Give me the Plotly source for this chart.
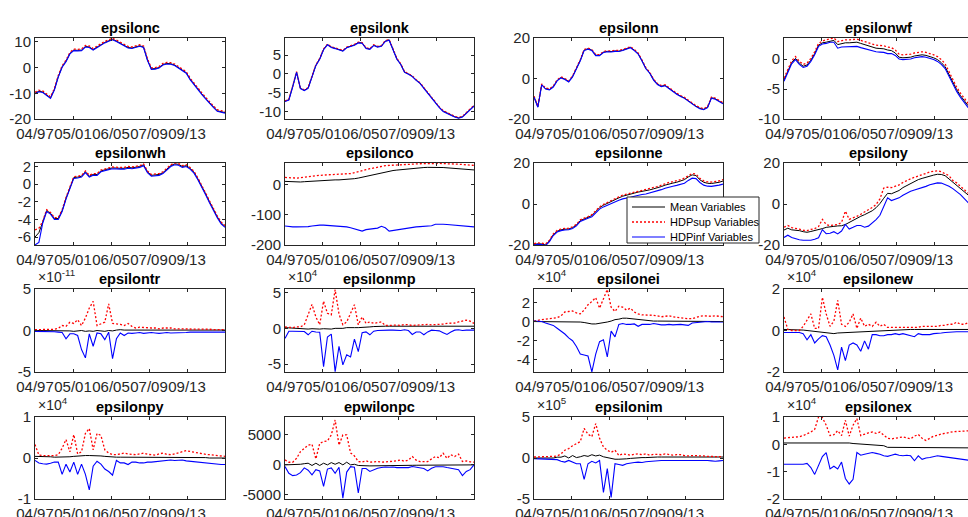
import plotly.graph_objects as go

W, H = 968, 517

# time index in months since 04/97, sampled every 5 months
T = list(range(0, 246, 5))
XTICK_VALS = [0, 49, 98, 147, 196]
XTICK_TEXT = ["04/97", "05/01", "06/05", "07/09", "09/13"]

SERIES_NAMES = ["Mean Variables", "HDPsup Variables", "HDPinf Variables"]

# ---------------- epsilonc ----------------
c_mean = [-10, -9.2, -9.5, -10.5, -11.8, -8.5, -3.5, 0.3, 2.5, 5.5,
          6.8, 6.7, 6.8, 8.2, 8.0, 7.0, 8.0, 9.0, 9.8, 10.4,
          11.0, 10.3, 9.5, 8.8, 7.8, 7.6, 8.0, 8.5, 8.0, 3.0,
          -0.5, -0.4, 0.0, 1.2, 1.6, 1.5, 1.0, 0.0, -1.0, -2.0,
          -4.5, -6.5, -8.5, -10.2, -12.0, -13.8, -15.3, -16.8, -17.3, -17.5]
c_sup = [-9.6, -8.8, -9.1, -10.1, -11.4, -8.1, -3.1, 0.7, 2.9, 5.9,
         7.2, 7.1, 7.2, 8.6, 8.4, 7.4, 8.4, 9.4, 10.2, 10.8,
         11.4, 10.7, 9.9, 9.2, 8.2, 8.0, 8.4, 8.9, 8.4, 3.4,
         -0.1, 0.0, 0.4, 1.6, 2.0, 1.9, 1.4, 0.4, -0.6, -1.6,
         -4.1, -6.1, -8.1, -9.8, -11.6, -13.4, -14.9, -16.4, -16.9, -17.1]
c_inf = [-10.2, -9.4, -9.7, -10.7, -12.0, -8.7, -3.7, 0.1, 2.3, 5.3,
         6.6, 6.5, 6.6, 8.0, 7.8, 6.8, 7.8, 8.8, 9.6, 10.2,
         10.8, 10.1, 9.3, 8.6, 7.6, 7.4, 7.8, 8.3, 7.8, 2.8,
         -0.7, -0.6, -0.2, 1.0, 1.4, 1.3, 0.8, -0.2, -1.2, -2.2,
         -4.7, -6.7, -8.7, -10.4, -12.2, -14.0, -15.5, -17.0, -17.5, -17.7]

# ---------------- epsilonk ----------------
k_mean = [-7.2, -6.8, -3.3, 0.5, -3.8, -4.3, -3.7, -0.8, 2.3, 4.0,
          6.5, 7.8, 7.1, 6.8, 6.5, 6.1, 7.0, 7.3, 7.7, 8.3,
          8.2, 6.8, 6.6, 7.6, 7.2, 7.4, 8.7, 9.0, 6.5, 4.0,
          2.6, 0.5, 0.0, -0.6, -1.6, -2.4, -3.7, -5.0, -6.3, -7.8,
          -8.8, -9.8, -10.4, -10.8, -11.3, -11.6, -11.3, -10.3, -9.3, -8.4]
k_sup = [-7.1, -6.7, -3.2, 0.6, -3.7, -4.2, -3.6, -0.7, 2.4, 4.1,
         6.6, 7.9, 7.2, 6.9, 6.6, 6.2, 7.1, 7.4, 7.8, 8.4,
         8.3, 6.9, 6.7, 7.7, 7.3, 7.5, 8.8, 9.1, 6.6, 4.1,
         2.7, 0.6, 0.1, -0.5, -1.5, -2.3, -3.6, -4.9, -6.2, -7.7,
         -8.7, -9.7, -10.3, -10.7, -11.2, -11.5, -11.2, -10.2, -9.2, -8.3]
k_inf = [-7.3, -6.9, -3.4, 0.4, -3.9, -4.4, -3.8, -0.9, 2.2, 3.9,
         6.4, 7.7, 7.0, 6.7, 6.4, 6.0, 6.9, 7.2, 7.6, 8.2,
         8.1, 6.7, 6.5, 7.5, 7.1, 7.3, 8.6, 8.9, 6.4, 3.9,
         2.5, 0.4, -0.1, -0.7, -1.7, -2.5, -3.8, -5.1, -6.4, -7.9,
         -8.9, -9.9, -10.5, -10.9, -11.4, -11.7, -11.4, -10.4, -9.4, -8.5]

# ---------------- epsilonn ----------------
n_mean = [-9, -14, -3, -5, -5.4, -4, -1, 0.5, -0.3, -1.5,
          1.0, 5.0, 9.0, 14.0, 14.7, 14.0, 11.5, 11.5, 13.0, 13.4,
          13.3, 13.6, 13.5, 14.0, 14.6, 15.4, 14.0, 12.3, 8.8, 5.0,
          2.8, -0.6, -2.8, -3.8, -3.4, -4.8, -6.5, -7.6, -8.7, -9.6,
          -11.0, -12.5, -13.7, -14.7, -15.2, -14.2, -9.5, -10.0, -11.0, -12.3]
n_sup = [-8.7, -13.7, -2.7, -4.7, -5.1, -3.7, -0.7, 0.8, 0.0, -1.2,
         1.3, 5.3, 9.3, 14.3, 15.0, 14.3, 11.8, 11.8, 13.3, 13.7,
         13.6, 13.9, 13.8, 14.3, 14.9, 15.7, 14.3, 12.6, 9.1, 5.3,
         3.1, -0.3, -2.5, -3.5, -3.1, -4.5, -6.2, -7.3, -8.4, -9.3,
         -10.7, -12.2, -13.4, -14.4, -14.9, -13.9, -9.2, -9.7, -10.7, -12.0]
n_inf = [-9.2, -14.2, -3.2, -5.2, -5.6, -4.2, -1.2, 0.3, -0.5, -1.7,
         0.8, 4.8, 8.8, 13.8, 14.5, 13.8, 11.3, 11.3, 12.8, 13.2,
         13.1, 13.4, 13.3, 13.8, 14.4, 15.2, 13.8, 12.1, 8.6, 4.8,
         2.6, -0.8, -3.0, -4.0, -3.6, -5.0, -6.7, -7.8, -8.9, -9.8,
         -11.2, -12.7, -13.9, -14.9, -15.4, -14.4, -9.7, -10.2, -11.2, -12.5]

# ---------------- epsilonwf ----------------
wf_mean = [-3.5, -2.0, -0.6, 0.1, -0.7, -1.2, -1.0, -0.2, 0.9, 2.3,
           2.7, 2.8, 3.0, 3.1, 2.4, 2.6, 2.7, 2.7, 2.7, 2.8,
           2.6, 2.4, 2.2, 2.0, 1.8, 1.75, 1.7, 1.5, 1.4, 1.0,
           0.3, 0.2, 0.25, 0.3, 0.5, 0.6, 0.7, 0.6, 0.45, 0.2,
           -0.1, -0.6, -1.3, -2.6, -4.0, -5.1, -6.1, -6.9, -7.8, -8.3]
wf_sup = [-3.2, -1.7, -0.3, 0.4, -0.4, -0.9, -0.7, 0.1, 1.2, 2.6,
          3.0, 3.2, 3.4, 3.5, 2.9, 3.1, 3.2, 3.2, 3.2, 3.3,
          3.1, 2.9, 2.7, 2.5, 2.3, 2.25, 2.2, 2.0, 1.9, 1.5,
          0.8, 0.7, 0.75, 0.8, 1.0, 1.1, 1.2, 1.1, 0.95, 0.7,
          0.4, -0.1, -0.8, -2.1, -3.6, -4.7, -5.7, -6.5, -7.4, -7.9]
wf_inf = [-3.7, -2.2, -0.8, -0.1, -0.9, -1.4, -1.2, -0.4, 0.7, 2.1,
          2.5, 2.6, 2.8, 2.8, 1.8, 2.0, 2.0, 2.0, 2.0, 2.1,
          1.9, 1.7, 1.5, 1.3, 1.2, 1.15, 1.1, 0.9, 0.9, 0.6,
          0.0, -0.1, -0.05, 0.0, 0.2, 0.3, 0.4, 0.3, 0.15, -0.1,
          -0.4, -0.9, -1.6, -2.9, -4.3, -5.4, -6.4, -7.2, -8.1, -8.6]

# ---------------- epsilonwh ----------------
wh_mean = [-6.0, -5.5, -4.3, -3.0, -3.3, -3.9, -3.9, -3.0, -1.6, -0.5,
           0.75, 0.8, 0.9, 1.4, 0.9, 1.1, 1.1, 1.5, 1.65, 1.75,
           1.85, 1.8, 1.8, 1.8, 1.9, 1.85, 1.9, 2.0, 2.2, 1.4,
           1.0, 1.05, 1.1, 1.3, 1.7, 2.1, 2.3, 2.25, 2.0, 2.1,
           1.8, 1.35, 0.6, -0.2, -1.1, -2.0, -2.9, -3.7, -4.4, -4.8]
wh_sup = [-5.2, -5.0, -4.2, -2.9, -3.2, -3.8, -3.8, -2.9, -1.5, -0.4,
          0.85, 0.9, 1.0, 1.5, 1.0, 1.2, 1.2, 1.6, 1.75, 1.85,
          1.95, 1.9, 1.9, 1.9, 2.0, 1.95, 2.0, 2.1, 2.3, 1.5,
          1.1, 1.15, 1.2, 1.4, 1.8, 2.2, 2.4, 2.35, 2.1, 2.2,
          1.9, 1.45, 0.7, -0.1, -1.0, -1.9, -2.8, -3.6, -4.3, -4.7]
wh_inf = [-6.9, -6.6, -4.4, -3.1, -3.4, -4.0, -4.0, -3.1, -1.7, -0.6,
          0.65, 0.7, 0.8, 1.3, 0.8, 1.0, 1.0, 1.4, 1.55, 1.65,
          1.75, 1.7, 1.7, 1.7, 1.8, 1.75, 1.8, 1.9, 2.1, 1.3,
          0.9, 0.95, 1.0, 1.2, 1.6, 2.0, 2.2, 2.15, 1.9, 2.0,
          1.7, 1.25, 0.5, -0.3, -1.2, -2.1, -3.0, -3.8, -4.5, -4.9]

# ---------------- epsilonco ----------------
co_mean = [11, 10, 9.5, 9, 9, 10, 11, 12, 13, 14,
           14.5, 15, 15.5, 16, 16, 16.5, 17, 18, 20, 22,
           25, 28, 31, 34, 37, 40, 43, 45, 47, 48.5,
           50, 51.5, 53, 54, 55, 56, 57, 57.5, 58, 58,
           57.5, 57, 56, 55, 54, 53, 52, 51, 50, 49]
co_sup = [24, 23, 22, 22, 23, 25, 27, 28.5, 30, 31,
          32, 32.5, 33, 33.5, 34, 34.5, 35, 37, 40, 44,
          47, 50, 53, 56, 58, 61, 63, 64, 65, 65.5,
          66, 67, 68, 68.5, 69, 69.5, 70, 70.5, 71, 71,
          70.5, 70, 70, 69, 68.5, 68, 67, 66, 65, 64]
co_inf = [-137, -139, -140, -140, -140, -140, -139, -137, -135, -134,
          -134, -135, -135, -135, -136, -138, -140, -143, -146, -150,
          -154, -149, -147, -146, -144, -138, -143, -154, -152, -149,
          -146, -144, -142, -141, -140, -139, -138, -137, -136, -131,
          -130, -131, -132, -133, -134, -135, -137, -138, -139, -140]

# ---------------- epsilonne ----------------
ne_mean = [-19.7, -19.4, -19.5, -20.0, -18.0, -15.0, -13.3, -12.6, -12.3, -12.2,
           -11.5, -10.3, -8.1, -7.4, -6.5, -5.6, -3.5, -1.8, -0.6, 0.4,
           1.3, 2.3, 3.0, 3.8, 4.2, 4.8, 5.3, 5.8, 6.1, 6.4,
           6.9, 7.4, 7.8, 8.5, 9.2, 9.8, 10.2, 10.6, 11.2, 11.9,
           13.2, 14.2, 13.9, 11.8, 10.6, 10.1, 10.0, 10.2, 10.6, 11.2]
ne_sup = [-19.3, -19.0, -19.1, -19.6, -17.6, -14.6, -12.9, -12.2, -11.9, -11.8,
          -11.1, -9.9, -7.7, -7.0, -6.1, -5.2, -3.1, -1.4, -0.2, 0.8,
          1.7, 2.7, 3.5, 4.3, 4.8, 5.4, 5.9, 6.4, 6.8, 7.1,
          7.6, 8.1, 8.5, 9.2, 9.9, 10.5, 10.9, 11.3, 11.9, 12.6,
          13.9, 14.9, 14.6, 12.5, 11.3, 10.8, 10.7, 10.9, 11.3, 11.9]
ne_inf = [-20.0, -19.7, -19.8, -20.3, -18.4, -15.4, -13.7, -13.0, -12.7, -12.6,
          -11.9, -10.7, -8.5, -7.9, -7.0, -6.2, -4.1, -2.5, -1.4, -0.5,
          0.3, 1.2, 1.8, 2.5, 2.8, 3.3, 3.8, 4.3, 4.6, 4.9,
          5.4, 5.9, 6.3, 7.0, 7.7, 8.3, 8.7, 9.1, 9.6, 10.1,
          11.5, 12.6, 12.4, 10.5, 9.2, 8.7, 8.6, 8.8, 9.2, 9.7]

# ---------------- epsilony ----------------
y_mean = [-12.7, -11.8, -12.6, -12.7, -13.0, -13.5, -13.8, -13.4, -13.0, -12.5,
          -12.0, -11.4, -11.0, -10.9, -10.7, -10.6, -10.0, -8.9, -8.0, -6.9,
          -6.0, -5.2, -4.2, -3.3, -1.8, 0.2, 2.8, 5.2, 5.0, 5.8,
          6.6, 8.0, 9.0, 10.3, 11.3, 11.9, 12.5, 13.1, 13.6, 14.1,
          14.5, 14.4, 13.8, 12.2, 10.8, 9.0, 7.4, 6.0, 4.5, 2.8]
y_sup = [-11.3, -10.5, -11.5, -11.8, -12.3, -12.8, -13.0, -12.4, -12.0, -11.0,
         -7.5, -10.0, -10.5, -10.2, -10.0, -9.0, -3.5, -7.5, -6.8, -6.0,
         -5.0, -4.0, -3.0, -1.7, -0.3, 2.5, 7.8, 8.2, 8.0, 8.5,
         9.3, 10.5, 11.5, 12.3, 13.0, 13.7, 14.4, 15.0, 15.6, 16.0,
         16.2, 15.7, 14.8, 13.8, 11.5, 10.3, 8.6, 7.0, 5.3, 3.7]
y_inf = [-16.3, -15.2, -16.3, -17.0, -17.4, -17.7, -17.7, -17.7, -17.2, -16.5,
         -12.5, -14.5, -14.3, -13.5, -14.6, -13.2, -10.0, -12.2, -11.4, -10.5,
         -10.5, -11.3, -10.8, -9.2, -7.6, -5.5, -1.0, 3.0, 1.7, 2.5,
         3.0, 4.3, 5.4, 6.2, 6.8, 7.3, 7.9, 8.6, 9.4, 10.0,
         10.3, 10.2, 9.6, 8.7, 7.5, 6.2, 4.6, 2.6, 0.7, -1.3]

# ---------------- epsilontr (x 1e-11) ----------------
tr_mean = [0, 0, 0, 0, 0, 0, 0, 0, 0, -0.05,
           -0.1, -0.05, 0, -0.1, -0.05, -0.1, 0, -0.05, -0.1, 0,
           -0.05, 0.05, 0.1, 0.05, 0.05, 0.05, 0.05, 0.05, 0.05, 0.05,
           0.05, 0.05, 0.05, 0.05, 0.05, 0.05, 0.05, 0.05, 0.05, 0.05,
           0.05, 0.05, 0.05, 0.05, 0.05, 0.05, 0.05, 0.05, 0.05, 0.05]
tr_sup = [0.1, 0.1, 0.1, 0.1, 0.1, 0.15, 0.25, 0.6, 0.5, 1.0,
          0.85, 1.3, 0.6, 1.5, 2.7, 3.5, 0.6, 0.8, 1.0, 3.2,
          0.85, 0.8, 0.75, 0.6, 0.85, 0.5, 0.3, 0.4, 0.35, 0.3,
          0.3, 0.3, 0.2, 0.3, 0.3, 0.3, 0.2, 0.2, 0.2, 0.2,
          0.2, 0.2, 0.2, 0.2, 0.2, 0.15, 0.1, 0.1, 0.1, 0.1]
tr_inf = [-0.1, -0.1, -0.1, -0.1, -0.1, -0.15, -0.2, -0.25, -1.0, -0.4,
          -0.4, -0.6, -2.3, -3.3, -0.4, -1.9, -0.3, -0.4, -1.1, -0.2,
          -3.4, -1.0, -0.3, -0.6, -0.3, -0.35, -0.3, -0.25, -0.35, -0.3,
          -0.25, -0.3, -0.35, -0.3, -0.25, -0.3, -0.3, -0.25, -0.3, -0.25,
          -0.2, -0.2, -0.25, -0.2, -0.2, -0.2, -0.2, -0.2, -0.2, -0.2]

# ---------------- epsilonmp (x 1e4) ----------------
mp_mean = [0.1, 0.05, 0.0, 0.0, -0.05, -0.1, -0.1, -0.05, -0.1, -0.1,
           -0.05, -0.1, -0.1, 0.0, -0.05, 0.0, 0.1, 0.05, 0.1, 0.1,
           0.1, 0.2, 0.2, 0.25, 0.3, 0.3, 0.3, 0.3, 0.3, 0.3,
           0.3, 0.3, 0.3, 0.3, 0.3, 0.3, 0.3, 0.3, 0.3, 0.3,
           0.3, 0.3, 0.3, 0.3, 0.3, 0.3, 0.3, 0.3, 0.3, 0.3]
mp_sup = [0.2, 0.15, 0.1, 0.2, 0.2, 0.5, 1.9, 3.35, 1.6, 0.5,
          3.8, 2.1, 1.9, 5.4, 2.0, 0.5, 0.9, 2.1, 3.3, 0.5,
          1.6, 0.7, 0.9, 0.7, 0.8, 0.9, 0.4, 0.45, 0.5, 0.45,
          0.4, 0.55, 0.5, 0.4, 0.45, 0.5, 0.55, 0.55, 0.5, 0.5,
          0.5, 0.6, 0.7, 0.7, 0.75, 0.9, 1.0, 1.15, 1.0, 0.7]
mp_inf = [-1.4, -0.4, -0.4, -0.4, -0.4, -0.45, -0.9, -0.4, -0.5, -0.55,
          -5.35, -1.2, -0.8, -6.05, -2.5, -5.1, -3.7, -4.0, -1.5, -3.25,
          -0.6, -0.5, -0.9, -0.4, -0.3, -0.25, -0.2, -0.25, -0.25, -0.3,
          -0.3, -0.2, -0.3, -0.85, -0.5, -0.5, -0.9, -0.5, -0.25, -0.3,
          -0.35, -0.6, -0.85, -0.5, -0.25, -0.2, -0.3, -0.25, -0.25, -0.25]

# ---------------- epsilonei (x 1e4) ----------------
ei_mean = [0, 0, 0, 0, 0, 0, 0, 0, 0, 0,
           0, 0, -0.05, -0.1, -0.2, -0.25, -0.25, -0.2, -0.15, -0.05,
           0.05, 0.2, 0.25, 0.35, 0.35, 0.3, 0.25, 0.2, 0.15, 0.1,
           0.1, 0.05, 0.05, 0.05, 0.05, 0.05, 0.05, 0, 0, 0,
           0, 0, 0, 0, 0, 0, 0, 0, 0, 0]
ei_sup = [0.05, 0.15, 0.2, 0.25, 0.3, 0.35, 0.4, 0.6, 1.0, 1.05,
          1.1, 0.9, 0.8, 1.2, 1.75, 2.1, 2.5, 1.4, 2.3, 3.35,
          1.5, 1.05, 1.6, 1.5, 1.2, 1.4, 1.0, 0.8, 0.7, 0.7,
          0.7, 0.65, 0.6, 0.5, 0.55, 0.6, 0.5, 0.45, 0.35, 0.35,
          0.3, 0.3, 0.45, 0.55, 0.6, 0.55, 0.55, 0.6, 0.55, 0.5]
ei_inf = [0.05, 0.02, 0.0, -0.15, -0.3, -0.4, -0.7, -1.0, -1.3, -1.7,
          -2.0, -2.6, -3.4, -3.5, -3.6, -5.25, -3.4, -2.1, -1.9, -3.7,
          -1.0, -1.6, -0.3, -0.2, -0.3, -0.3, -0.25, -0.5, -0.3, -0.3,
          -0.3, -0.2, -0.3, -0.35, -0.35, -0.3, -0.35, -0.3, -0.3, -0.35,
          -0.4, -0.15, -0.1, -0.05, 0.0, 0.0, -0.05, -0.05, -0.05, -0.05]

# ---------------- epsilonew (x 1e4) ----------------
ew_mean = [0.05, 0.05, 0.05, 0.04, 0.03, 0.02, 0.0, -0.02, -0.04, -0.06,
           -0.08, -0.1, -0.12, -0.15, -0.12, -0.11, -0.1, -0.09, -0.08, -0.06,
           -0.05, -0.04, -0.03, -0.02, -0.01, 0.0, 0.0, 0.01, 0.02, 0.03,
           0.03, 0.04, 0.04, 0.05, 0.05, 0.05, 0.05, 0.05, 0.05, 0.05,
           0.05, 0.05, 0.05, 0.05, 0.05, 0.05, 0.05, 0.05, 0.05, 0.05]
ew_sup = [0.65, 0.05, 0.0, 0.0, 0.0, 0.2, 0.5, 0.8, 0.1, 0.1,
          1.6, 0.8, 0.2, 0.45, 1.45, 0.3, 0.2, 0.4, 0.8, 0.1,
          0.6, 0.2, 0.3, 0.2, 0.4, 0.2, 0.3, 0.15, 0.15, 0.15,
          0.15, 0.15, 0.15, 0.15, 0.15, 0.15, 0.2, 0.2, 0.2, 0.2,
          0.2, 0.25, 0.25, 0.3, 0.3, 0.4, 0.3, 0.3, 0.4, 0.45]
ew_inf = [-0.1, -0.1, -0.1, -0.1, -0.1, -0.15, -0.45, -0.2, -0.6, -0.4,
          -0.25, -0.3, -0.7, -1.2, -1.9, -0.8, -1.45, -0.7, -0.6, -0.7,
          -1.0, -0.5, -0.9, -0.2, -0.2, -0.25, -0.25, -0.2, -0.2, -0.15,
          -0.2, -0.15, -0.2, -0.25, -0.3, -0.15, -0.2, -0.2, -0.2, -0.15,
          -0.12, -0.12, -0.1, -0.08, -0.08, -0.06, -0.06, -0.06, -0.06, -0.06]

# ---------------- epsilonpy (x 1e4) ----------------
py_mean = [0.04, 0.04, 0.03, 0.03, 0.03, 0.02, 0.02, 0.02, 0.02, 0.03,
           0.04, 0.05, 0.05, 0.06, 0.06, 0.06, 0.06, 0.05, 0.04, 0.03,
           0.03, 0.02, 0.02, 0.02, 0.02, 0.02, 0.02, 0.02, 0.02, 0.02,
           0.02, 0.02, 0.02, 0.02, 0.02, 0.02, 0.02, 0.02, 0.02, 0.02,
           0.01, 0.01, 0.01, 0.01, 0.01, 0.0, 0.0, 0.0, 0.0, 0.0]
py_sup = [0.33, 0.07, 0.06, 0.06, 0.06, 0.06, 0.08, 0.24, 0.45, 0.15,
          0.57, 0.1, 0.15, 0.6, 0.72, 0.2, 0.6, 0.55, 0.2, 0.12,
          0.08, 0.08, 0.1, 0.12, 0.1, 0.09, 0.08, 0.1, 0.12, 0.09,
          0.08, 0.07, 0.1, 0.12, 0.09, 0.08, 0.1, 0.13, 0.16, 0.18,
          0.16, 0.14, 0.12, 0.1, 0.09, 0.08, 0.07, 0.05, 0.04, 0.04]
py_inf = [-0.06, -0.12, -0.14, -0.15, -0.13, -0.1, -0.1, -0.4, -0.15, -0.34,
          -0.1, -0.4, -0.15, -0.4, -0.78, -0.2, -0.08, -0.15, -0.27, -0.33,
          -0.42, -0.06, -0.12, -0.12, -0.16, -0.1, -0.1, -0.12, -0.12, -0.1,
          -0.1, -0.09, -0.08, -0.06, -0.05, -0.05, -0.06, -0.05, -0.05, -0.07,
          -0.08, -0.1, -0.1, -0.12, -0.13, -0.14, -0.15, -0.16, -0.16, -0.16]

# ---------------- epwilonpc ----------------
pc_mean = [0, 0, 0, 50, 100, 200, 280, -100, 280, -100,
           280, 0, 380, 100, 390, 0, 450, 0, 100, -100,
           -170, -150, -170, -150, -150, -150, -140, -130, -120, -110,
           -100, -90, -80, -70, -60, -50, -40, -30, -20, -10,
           0, 0, 0, 0, 0, 0, 0, 0, 0, 0]
pc_sup = [830, 440, 440, 1100, 2200, 2800, 3300, 3450, 1000, 3600,
          3900, 4000, 5000, 7500, 3300, 5000, 5000, 2000, 1500, 560,
          500, 670, 450, 500, 550, 450, 500, 450, 600, 700,
          800, 600, 800, 1390, 800, 550, 600, 550, 1000, 1390,
          1200, 1950, 1100, 1700, 1400, 1800, 560, 650, 500, 450]
pc_inf = [-280, -1400, -1800, -1700, -1300, -500, -900, -1670, -800, -1000,
          -3600, -700, -500, -1400, -400, -5560, -1200, -300, -400, -4700,
          -600, -600, -1100, -800, -550, -450, -350, -400, -350, -450,
          -450, -550, -450, -280, -400, -450, -600, -1000, -550, -300,
          -300, -300, -450, -550, -600, -800, -1780, -1100, -800, 0]

# ---------------- epsilonim (x 1e5) ----------------
im_mean = [0, 0, 0, 0, 0, 0, 0.1, 0.1, 0.25, 0,
           0.3, 0.05, 0.15, 0.3, 0.2, 0.4, 0.25, 0.35, 0.15, 0.05,
           -0.1, -0.15, -0.15, -0.15, -0.1, -0.05, 0, 0, 0.05, 0.05,
           0.1, 0.1, 0.12, 0.12, 0.12, 0.12, 0.12, 0.12, 0.12, 0.12,
           0.12, 0.12, 0.12, 0.12, 0.12, 0.12, 0.12, 0.12, 0.12, 0.12]
im_sup = [0.12, 0.12, 0.12, 0.12, 0.13, 0.2, 0.25, 0.5, 0.95, 1.15,
          1.5, 1.75, 2.0, 3.6, 2.9, 2.6, 4.2, 2.4, 1.35, 0.95,
          0.7, 0.95, 0.3, 0.5, 0.4, 0.35, 0.45, 0.5, 0.4, 0.5,
          0.35, 0.45, 0.45, 0.4, 0.5, 0.4, 0.35, 0.4, 0.4, 0.3,
          0.25, 0.3, 0.3, 0.25, 0.25, 0.2, 0.2, 0.15, 0.2, 0.15]
im_inf = [-0.08, -0.1, -0.12, -0.15, -0.15, -0.15, -0.2, -0.4, -0.5, -0.3,
          -0.55, -0.7, -0.7, -2.6, -0.7, -0.4, -0.6, -0.3, -4.2, -1.3,
          -4.8, -0.7, -0.8, -0.9, -0.7, -0.6, -0.55, -0.5, -0.55, -0.45,
          -0.4, -0.35, -0.35, -0.3, -0.3, -0.3, -0.3, -0.28, -0.25, -0.25,
          -0.25, -0.25, -0.3, -0.25, -0.25, -0.3, -0.35, -0.4, -0.35, -0.3]

# ---------------- epsilonex (x 1e4) ----------------
ex_mean = [0.05, 0.05, 0.05, 0.05, 0.05, 0.05, 0.05, 0.05, 0.05, 0.055,
           0.06, 0.065, 0.07, 0.07, 0.07, 0.07, 0.06, 0.05, 0.03, 0.02,
           0.01, 0.0, -0.01, -0.02, -0.02, -0.03, -0.05, -0.11, -0.11, -0.11,
           -0.11, -0.11, -0.11, -0.11, -0.11, -0.11, -0.12, -0.12, -0.12, -0.12,
           -0.12, -0.12, -0.12, -0.12, -0.12, -0.13, -0.13, -0.13, -0.13, -0.13]
ex_sup = [0.23, 0.24, 0.26, 0.26, 0.28, 0.32, 0.38, 0.45, 0.55, 1.0,
          0.98, 0.7, 0.32, 0.35, 0.5, 0.32, 0.88, 0.3, 0.7, 0.94,
          0.32, 0.38, 0.42, 0.45, 0.4, 0.45, 0.32, 0.22, 0.2, 0.22,
          0.25, 0.27, 0.24, 0.2, 0.3, 0.36, 0.22, 0.14, 0.22, 0.3,
          0.33, 0.38, 0.4, 0.44, 0.46, 0.47, 0.48, 0.5, 0.5, 0.5]
ex_inf = [-0.73, -0.73, -0.73, -0.73, -0.73, -0.73, -0.7, -0.85, -1.1, -0.8,
          -0.45, -0.3, -0.9, -0.8, -0.9, -0.65, -1.25, -1.45, -1.28, -0.3,
          -0.4, -0.36, -0.33, -0.3, -0.33, -0.36, -0.42, -0.44, -0.4, -0.36,
          -0.4, -0.42, -0.4, -0.42, -0.6, -0.42, -0.55, -0.5, -0.48, -0.45,
          -0.42, -0.44, -0.46, -0.48, -0.5, -0.52, -0.55, -0.57, -0.6, -0.6]

# title, mean, sup, inf, y range, y ticks, power-of-ten multiplier
PANELS = [
    ("epsilonc", c_mean, c_sup, c_inf, [-20, 11.5], [-20, -10, 0, 10], None),
    ("epsilonk", k_mean, k_sup, k_inf, [-11.9, 9.5], [-10, -5, 0, 5], None),
    ("epsilonn", n_mean, n_sup, n_inf, [-20, 20], [-20, 0, 20], None),
    ("epsilonwf", wf_mean, wf_sup, wf_inf, [-10, 3.5], [-10, -5, 0], None),
    ("epsilonwh", wh_mean, wh_sup, wh_inf, [-6.9, 2.4], [-6, -4, -2, 0, 2], None),
    ("epsilonco", co_mean, co_sup, co_inf, [-200, 72], [-200, -100, 0], None),
    ("epsilonne", ne_mean, ne_sup, ne_inf, [-20, 20], [-20, 0, 20], None),
    ("epsilony", y_mean, y_sup, y_inf, [-20, 20], [-20, 0, 20], None),
    ("epsilontr", tr_mean, tr_sup, tr_inf, [-5, 5], [-5, 0, 5], -11),
    ("epsilonmp", mp_mean, mp_sup, mp_inf, [-6.1, 5.5], [-5, 0, 5], 4),
    ("epsilonei", ei_mean, ei_sup, ei_inf, [-5.27, 3.4], [-4, -2, 0, 2], 4),
    ("epsilonew", ew_mean, ew_sup, ew_inf, [-2, 2], [-2, 0, 2], 4),
    ("epsilonpy", py_mean, py_sup, py_inf, [-1, 1], [-1, 0, 1], 4),
    ("epwilonpc", pc_mean, pc_sup, pc_inf, [-5700, 8000], [-5000, 0, 5000], None),
    ("epsilonim", im_mean, im_sup, im_inf, [-5, 5], [-5, 0, 5], 5),
    ("epsilonex", ex_mean, ex_sup, ex_inf, [-2, 1], [-2, -1, 0, 1], 4),
]

# ---------------- layout geometry (pixels) ----------------
COL_PX = [(35, 225), (285, 474), (534, 723), (784, 972)]   # last column runs past the page edge
ROW_PX = [(38, 119), (163, 245), (289, 372), (417, 499)]
X_SPAN = 245

FONT = "Liberation Sans, Arial, Helvetica, sans-serif"
AXC = "#262626"
LINE_STYLES = [
    dict(color="#000000", width=1.0),
    dict(color="#ff0000", width=1.3, dash="2px,2px"),
    dict(color="#0000ff", width=1.1),
]


def fx(px):
    return px / W


def fy(py):
    return 1 - py / H


fig = go.Figure()
layout = {}
annotations = []
shapes = []

for k, (title, mean, sup, inf, yrange, yticks, power) in enumerate(PANELS):
    r, c = divmod(k, 4)
    n = k + 1
    sfx = "" if n == 1 else str(n)
    left, right = COL_PX[c]
    top, bottom = ROW_PX[r]
    vis_right = min(right, W)
    xmax = X_SPAN * (vis_right - left) / (right - left)

    for name, ys, style in zip(SERIES_NAMES, (mean, sup, inf), LINE_STYLES):
        fig.add_trace(go.Scatter(
            x=T, y=ys, mode="lines", name=name, line=style,
            xaxis="x" + sfx, yaxis="y" + sfx, showlegend=False,
            hoverinfo="skip",
        ))

    common = dict(
        showline=True, linecolor=AXC, linewidth=1,
        ticks="inside", ticklen=3, tickwidth=1, tickcolor=AXC,
        showgrid=False, zeroline=False,
        tickfont=dict(family=FONT, size=15, color=AXC),
    )
    layout["xaxis" + sfx] = dict(
        common, domain=[fx(left), fx(vis_right)], range=[0, xmax],
        anchor="y" + sfx, tickmode="array", tickvals=XTICK_VALS,
        ticktext=XTICK_TEXT, mirror="ticks", tickangle=0,
        ticklabelstandoff=1,
    )
    layout["yaxis" + sfx] = dict(
        common, domain=[fy(bottom), fy(top)], range=yrange,
        anchor="x" + sfx, tickmode="array", tickvals=yticks,
        ticktext=[str(v) for v in yticks], tickangle=0,
        mirror="ticks" if right <= W else False,
    )

    annotations.append(dict(
        text="<b>%s</b>" % title, xref="paper", yref="paper",
        x=fx((left + right) / 2), y=fy(top), xanchor="center", yanchor="bottom",
        yshift=0, showarrow=False,
        font=dict(family=FONT, size=14.5, color="#000000"),
    ))
    if power is not None:
        annotations.append(dict(
            text="×10<sup>%d</sup>" % power, xref="paper", yref="paper",
            x=fx(left + 1), y=fy(top), xanchor="left", yanchor="bottom",
            yshift=2, showarrow=False,
            font=dict(family=FONT, size=14, color=AXC),
        ))

# ---------------- legend box ----------------
LEG = dict(left=627, right=759, top=197, bottom=243, rows=[207, 222, 237],
           line_x=(632, 665), text_x=668)
shapes.append(dict(
    type="rect", xref="paper", yref="paper",
    x0=fx(LEG["left"]), x1=fx(LEG["right"]),
    y0=fy(LEG["bottom"]), y1=fy(LEG["top"]),
    line=dict(color=AXC, width=1), fillcolor="white", layer="above",
))
for name, style, ry in zip(SERIES_NAMES, LINE_STYLES, LEG["rows"]):
    shapes.append(dict(
        type="line", xref="paper", yref="paper",
        x0=fx(LEG["line_x"][0]), x1=fx(LEG["line_x"][1]),
        y0=fy(ry), y1=fy(ry), line=style, layer="above",
    ))
    annotations.append(dict(
        text=name, xref="paper", yref="paper",
        x=fx(LEG["text_x"]), y=fy(ry), xanchor="left", yanchor="middle",
        showarrow=False, font=dict(family=FONT, size=11, color="#000000"),
    ))

fig.update_layout(
    width=W, height=H,
    margin=dict(l=0, r=0, t=0, b=0, pad=0, autoexpand=False),
    paper_bgcolor="white", plot_bgcolor="white",
    showlegend=False,
    annotations=annotations, shapes=shapes,
    **layout,
)

fig.write_html("out.html")
